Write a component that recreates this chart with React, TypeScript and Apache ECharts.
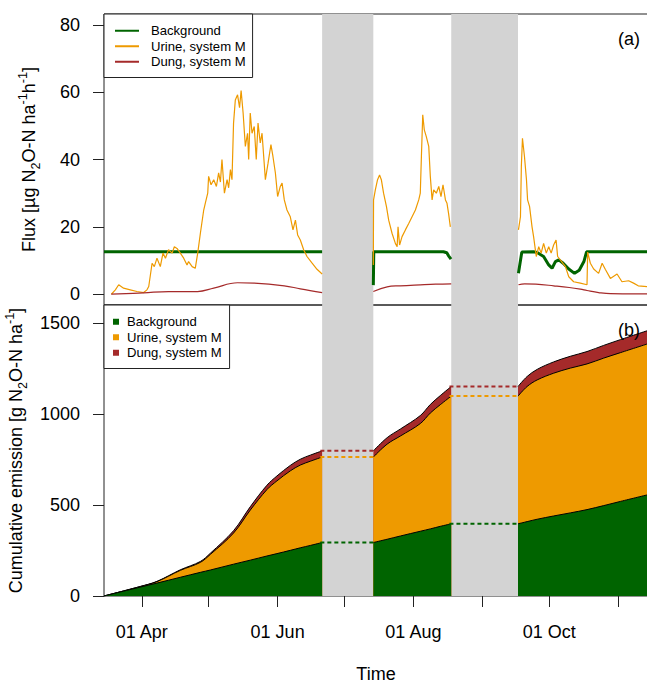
import React, { useEffect, useRef } from "react";
import * as echarts from "echarts";

// ---------- data ----------
const gaps: number[][] = [
  [172, 195],
  [230, 260],
];
const xMin = 74;
const xMax = 318.4;
const monthTickDays = [91, 121, 152, 182, 213, 244, 274, 305];
const monthLabelDays = [91, 152, 213, 274];
const monthLabelTexts = ["01 Apr", "01 Jun", "01 Aug", "01 Oct"];
const fluxTicks = [0, 20, 40, 60, 80];
const cumTicks = [0, 500, 1000, 1500];
const seriesNames = ["Background", "Urine, system M", "Dung, system M"];

// flux (µg N2O-N / ha / h), [day of year, value]
const bgFlux1 = [[74, 12.6], [172, 12.6]];
const bgFlux2 = [[195, 2.7], [195.2, 12.6], [226.5, 12.6], [228, 12.3], [228.8, 11.4], [229.9, 10.4]];
const bgFlux3 = [
  [260.2, 6.2], [261.7, 12.5], [267, 12.6], [268.6, 12.4], [271.5, 11.2], [273.8, 8.7], [275.3, 7.7],
  [276.8, 9.7], [278.3, 10.2], [280.3, 9.2], [282.8, 7.5], [285.4, 6.2], [287.5, 7.1], [289.6, 9.7],
  [290.8, 12.6], [318.4, 12.6],
];

const urineFlux1 = [
  [77.3, 0], [79.1, 1.3], [80.6, 2.8], [82.8, 1.8], [85.8, 1.3], [88.8, 0.8], [91.8, 0.5], [93.3, 1.3],
  [94.1, 2.3], [95.6, 9.2], [96.6, 8.2], [97.8, 10.7], [99.3, 8.2], [100.5, 12.2], [101.6, 10.7],
  [103.0, 13.2], [104.6, 12.2], [105.6, 14.1], [106.8, 13.6], [108.3, 12.2], [109.8, 10.7], [111.3, 8.7],
  [112.0, 9.7], [113.6, 8.2], [115.0, 7.7], [116.1, 12.2], [117.3, 18.1], [118.8, 25], [119.5, 27],
  [120.6, 30], [121.0, 35], [122.1, 32.5], [123.3, 34], [124.5, 32], [125.5, 36], [126.3, 33.3],
  [127.0, 40], [128.1, 30], [129.3, 34], [130.0, 31.6], [130.8, 37], [131.5, 34], [132.2, 50.8],
  [133.0, 57.7], [134.0, 59.2], [134.9, 55.4], [135.6, 60.5], [136.5, 53.8], [137.5, 43.9], [138.5, 47.8],
  [139.0, 40], [139.7, 53.8], [140.5, 47.8], [141.5, 49.8], [142.4, 40], [143.2, 50.8], [144.2, 44.9],
  [145.0, 47.8], [146.5, 34], [147.7, 38.9], [149.0, 44.4], [149.9, 40.9], [151.0, 36], [152.0, 29],
  [153.2, 32], [154.0, 33], [155.0, 28], [156.2, 25], [157.7, 23], [158.9, 19.1], [160.0, 22],
  [161.0, 17.6], [162.2, 16.1], [163.7, 13.2], [165.2, 11.2], [167.5, 9.2], [169.7, 7.4], [172.0, 6],
];
const urineFlux2 = [
  [195.0, 8.7], [195.1, 28], [195.9, 31], [196.9, 34], [197.8, 35.4], [198.6, 34], [199.6, 30],
  [200.9, 26], [201.9, 22], [203.4, 18.1], [204.9, 15.1], [205.7, 14.1], [206.1, 20], [206.8, 14.6],
  [207.9, 17.1], [209.4, 19.1], [210.9, 21], [212.4, 23], [213.9, 25], [215.4, 28], [216.1, 30],
  [216.6, 40.9], [217.2, 53.3], [217.9, 48.8], [218.8, 46.8], [219.9, 43.9], [220.6, 35], [221.4, 28],
  [222.1, 31], [223.3, 30], [224.4, 32], [225.4, 29], [226.3, 32.5], [227.4, 28], [228.1, 27],
  [228.8, 24], [229.6, 20],
];
const urineFlux3 = [
  [260.2, 19.1], [261.1, 23], [261.5, 37.9], [262.0, 46.3], [262.9, 40.9], [263.8, 34], [264.3, 28],
  [265.2, 26], [266.3, 20], [267.0, 17.1], [268.2, 11.2], [269.3, 14.1], [270.4, 12.2], [271.5, 15.1],
  [272.7, 12.2], [273.8, 14.1], [274.9, 12.2], [276.0, 14.6], [277.1, 16.1], [277.8, 11.2], [279.0, 10.2],
  [281.3, 8.2], [282.8, 5.2], [285.0, 3.7], [288.0, 3.3], [291.0, 2.8], [291.3, 12.5], [292.5, 9.2],
  [294.0, 7.5], [296.2, 6.2], [297.8, 9.2], [299.2, 7.4], [301.5, 4.7], [304.5, 6.0], [306.7, 3.7],
  [309.7, 4.0], [311.9, 3.3], [314.0, 2.5], [318.4, 2.2],
];

const dungFlux1 = [
  [77.3, 0], [91.8, 0.4], [103, 0.8], [116, 0.8], [123.3, 1.8], [134, 3.4], [141.5, 3.3], [155, 2.5],
  [162.2, 1.6], [172, 0.5],
];
const dungFlux2 = [[195, 0.8], [201.2, 2.2], [207, 2.5], [216.1, 2.8], [223, 3.0], [230, 3.1]];
const dungFlux3 = [
  [260.2, 2.8], [263, 3.1], [268, 3.0], [276, 2.5], [283, 2.0], [288, 1.5], [291, 1.1], [296.2, 0.5],
  [301.5, 0.15], [318.4, 0.1],
];

// cumulative emission layers (g N2O-N / ha)
const cumDays1 = [74, 90.3, 97.8, 108.3, 117.3, 121.8, 132.2, 139.7, 147.2, 151.7, 157.7, 162.2, 166.7, 172];
const cumBg1 = [0, 49, 71, 103, 130, 143, 175, 197, 220, 233, 251, 265, 278, 294];
const cumUrine1 = [0, 3, 8, 38, 55, 86, 171, 275, 365, 400, 437, 455, 463, 470];
const cumDung1 = [0, 0.5, 1.5, 3, 5, 6.5, 13, 18.5, 24, 27, 30, 32, 33.5, 34];

const cumDays2 = [195, 201.2, 207.2, 216.1, 220.6, 225.1, 230];
const cumBg2 = [294, 312, 330, 356, 369, 383, 397];
const cumUrine2 = [470, 523, 550, 592, 637, 669, 702];
const cumDung2 = [34, 35.5, 38.5, 44, 47, 50, 53];

const cumDays3 = [260, 264.1, 268.6, 276, 283.5, 291, 298.5, 306, 318.4];
const cumBg3 = [397, 409, 422, 440, 457, 475, 497, 520, 557];
const cumUrine3 = [702, 743, 766, 785, 796, 801, 811, 818, 830];
const cumDung3 = [53, 55, 58, 62, 65, 68, 70, 71.5, 73];

// ---------- style ----------
const FONT = '"Liberation Sans", Arial, Helvetica, sans-serif';
const C_BG = "#006400";
const C_UR = "#EE9A00";
const C_DU = "#A52A2A";
const C_GAP = "#D3D3D3";
const C_AX = "#222";
const FS = 18;

type Pt = (number | null)[];

function joinSegments(segs: number[][][]): Pt[] {
  const out: Pt[] = [];
  segs.forEach((s, i) => {
    if (i > 0) out.push([(gaps[i - 1][0] + gaps[i - 1][1]) / 2, null]);
    s.forEach((p) => out.push(p));
  });
  return out;
}

const cumDaySegs = [cumDays1, cumDays2, cumDays3];
const cumBgSegs = [cumBg1, cumBg2, cumBg3];
const cumUrSegs = [cumUrine1, cumUrine2, cumUrine3];
const cumDuSegs = [cumDung1, cumDung2, cumDung3];

function dottedLevel(level: (i: number) => number): Pt[] {
  const out: Pt[] = [];
  gaps.forEach(([a, b], i) => {
    if (i > 0) out.push([(gaps[i - 1][1] + a) / 2, null]);
    const v = level(i);
    out.push([a - 0.8, v], [b, v]);
  });
  return out;
}
const last = (arr: number[]) => arr[arr.length - 1];

export default function App() {
  const ref = useRef<HTMLDivElement>(null);
  useEffect(() => {
    if (!ref.current) return;
    const chart = echarts.init(ref.current, undefined, { renderer: "svg" });
    const markArea = {
      silent: true,
      itemStyle: { color: C_GAP },
      data: gaps.map(([a, b]) => [{ xAxis: a }, { xAxis: b }]),
    };
    const nameStyle = {
      fontSize: FS,
      color: "#000",
      fontFamily: FONT,
      lineHeight: 26,
      rich: {
        sub: { fontSize: 12.6, lineHeight: 13, verticalAlign: "bottom", color: "#000", fontFamily: FONT },
        sup: { fontSize: 12.6, lineHeight: 13, verticalAlign: "top", color: "#000", fontFamily: FONT },
      },
    };
    const tickLabel = { fontSize: FS, color: "#000", fontFamily: FONT };
    const legendText = { fontSize: 13.1, color: "#000", fontFamily: FONT, lineHeight: 15.5 };

    // cumulative areas: drawn as totals (top layer first), each filled to zero
    const cumSeries: any[] = [];
    cumDaySegs.forEach((days, s) => {
      const layers = [
        { name: seriesNames[2], color: C_DU, val: (i: number) => cumBgSegs[s][i] + cumUrSegs[s][i] + cumDuSegs[s][i] },
        { name: seriesNames[1], color: C_UR, val: (i: number) => cumBgSegs[s][i] + cumUrSegs[s][i] },
        { name: seriesNames[0], color: C_BG, val: (i: number) => cumBgSegs[s][i] },
      ];
      layers.forEach((L, k) => {
        cumSeries.push({
          name: L.name, type: "line", xAxisIndex: 1, yAxisIndex: 1, z: 3 + k,
          data: days.map((d, i) => [d, L.val(i)]),
          symbol: "none", showSymbol: false, smooth: 0.35,
          lineStyle: { color: "#000", width: 1 },
          itemStyle: { color: L.color },
          areaStyle: { color: L.color, opacity: 1, origin: "start" },
          ...(s === 0 && k === 0 ? { markArea } : {}),
        });
      });
    });

    const option: any = {
      animation: false,
      textStyle: { fontFamily: FONT },
      grid: [
        { left: 104, top: 14, width: 544, height: 291, show: true, borderColor: C_AX, borderWidth: 1, backgroundColor: "transparent", containLabel: false, outerBoundsMode: "none" },
        { left: 104, top: 305, width: 544, height: 291, show: true, borderColor: C_AX, borderWidth: 1, backgroundColor: "transparent", containLabel: false, outerBoundsMode: "none" },
      ],
      xAxis: [
        {
          type: "value", gridIndex: 0, min: xMin, max: xMax,
          axisLine: { show: false }, axisTick: { show: false }, axisLabel: { show: false }, splitLine: { show: false },
        },
        {
          type: "value", gridIndex: 1, min: xMin, max: xMax,
          axisLine: { show: false },
          axisTick: { show: true, length: 11, lineStyle: { color: C_AX }, customValues: monthTickDays },
          axisLabel: {
            ...tickLabel, margin: 25, lineHeight: 22, customValues: monthLabelDays,
            formatter: (v: number) => {
              const i = monthLabelDays.indexOf(v);
              return i >= 0 ? monthLabelTexts[i] : "";
            },
          },
          splitLine: { show: false },
          name: "Time", nameLocation: "middle", nameGap: 70,
          nameTextStyle: { fontSize: FS, color: "#000", fontFamily: FONT, lineHeight: 16 },
        },
      ],
      yAxis: [
        {
          type: "value", gridIndex: 0, min: -3.2, max: 83.2,
          axisLine: { show: false },
          axisTick: { show: true, length: 11, lineStyle: { color: C_AX }, customValues: fluxTicks },
          axisLabel: { ...tickLabel, margin: 24, customValues: fluxTicks, formatter: (v: number) => String(v) },
          splitLine: { show: false },
          name: "Flux [µg N{sub|2}O-N ha{sup|-1}h{sup|-1}]",
          nameLocation: "middle", nameRotate: 90, nameGap: 62, nameTextStyle: nameStyle,
        },
        {
          type: "value", gridIndex: 1, min: 0, max: 1600,
          axisLine: { show: false },
          axisTick: { show: true, length: 11, lineStyle: { color: C_AX }, customValues: cumTicks },
          axisLabel: { ...tickLabel, margin: 24, customValues: cumTicks, formatter: (v: number) => String(v) },
          splitLine: { show: false },
          name: "Cumulative emission [g N{sub|2}O-N ha{sup|-1}]",
          nameLocation: "middle", nameRotate: 90, nameGap: 62, nameTextStyle: nameStyle,
        },
      ],
      legend: [
        {
          data: seriesNames, orient: "vertical", left: 104, top: 14, selectedMode: false,
          icon: "rect", itemWidth: 24, itemHeight: 2, itemGap: 0,
          padding: [9, 7, 8, 11], borderColor: C_AX, borderWidth: 1, backgroundColor: "#fff",
          textStyle: { ...legendText, padding: [0, 0, 0, 7] },
        },
        {
          data: seriesNames, orient: "vertical", left: 104, top: 305, selectedMode: false,
          icon: "rect", itemWidth: 6, itemHeight: 6, itemGap: 0,
          padding: [9, 8, 8, 9], borderColor: C_AX, borderWidth: 1, backgroundColor: "#fff",
          textStyle: { ...legendText, padding: [0, 0, 0, 3] },
        },
      ],
      graphic: [
        { type: "text", x: 640, y: 39, z: 100, style: { text: "(a)", fill: "#000", fontSize: FS, fontFamily: FONT, align: "right", verticalAlign: "middle", textAlign: "right", textVerticalAlign: "middle" } },
        { type: "text", x: 640, y: 330, z: 100, style: { text: "(b)", fill: "#000", fontSize: FS, fontFamily: FONT, align: "right", verticalAlign: "middle", textAlign: "right", textVerticalAlign: "middle" } },
      ],
      series: [
        {
          name: seriesNames[0], type: "line", xAxisIndex: 0, yAxisIndex: 0, z: 3,
          data: joinSegments([bgFlux1, bgFlux2, bgFlux3]), symbol: "none", showSymbol: false,
          lineStyle: { color: C_BG, width: 3 }, itemStyle: { color: C_BG }, markArea,
        },
        {
          name: seriesNames[1], type: "line", xAxisIndex: 0, yAxisIndex: 0, z: 4,
          data: joinSegments([urineFlux1, urineFlux2, urineFlux3]), symbol: "none", showSymbol: false,
          lineStyle: { color: C_UR, width: 1.2 }, itemStyle: { color: C_UR },
        },
        {
          name: seriesNames[2], type: "line", xAxisIndex: 0, yAxisIndex: 0, z: 4,
          data: joinSegments([dungFlux1, dungFlux2, dungFlux3]), symbol: "none", showSymbol: false, smooth: 0.4,
          lineStyle: { color: C_DU, width: 1.2 }, itemStyle: { color: C_DU },
        },
        ...cumSeries,
        {
          type: "line", xAxisIndex: 1, yAxisIndex: 1, z: 10, symbol: "none", showSymbol: false,
          data: dottedLevel((i) => last(cumBgSegs[i])),
          lineStyle: { color: C_BG, width: 2, type: [4, 3] },
        },
        {
          type: "line", xAxisIndex: 1, yAxisIndex: 1, z: 10, symbol: "none", showSymbol: false,
          data: dottedLevel((i) => last(cumBgSegs[i]) + last(cumUrSegs[i])),
          lineStyle: { color: C_UR, width: 2, type: [4, 3] },
        },
        {
          type: "line", xAxisIndex: 1, yAxisIndex: 1, z: 10, symbol: "none", showSymbol: false,
          data: dottedLevel((i) => last(cumBgSegs[i]) + last(cumUrSegs[i]) + last(cumDuSegs[i])),
          lineStyle: { color: C_DU, width: 2, type: [4, 3] },
        },
      ],
    };
    chart.setOption(option);
    return () => chart.dispose();
  }, []);
  return (
    <div
      ref={ref}
      style={{ position: "absolute", left: 0, top: 0, width: 647, height: 684, background: "#fff" }}
    />
  );
}
